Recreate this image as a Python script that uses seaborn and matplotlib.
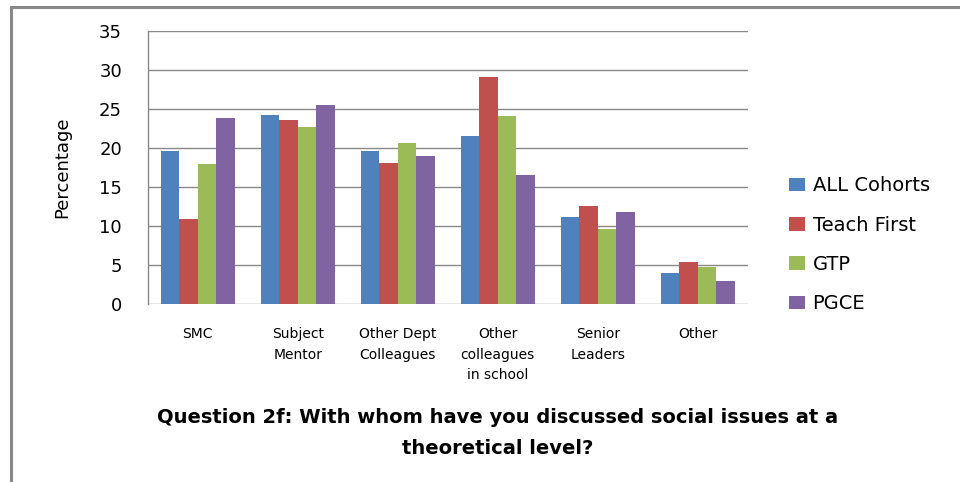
import pandas as pd
import matplotlib
matplotlib.use('Agg')
import matplotlib.pyplot as plt
from matplotlib.lines import Line2D
import seaborn as sns

categories = ['SMC', 'Subject\nMentor', 'Other Dept\nColleagues', 'Other\ncolleagues\nin school', 'Senior\nLeaders', 'Other']
cohorts = ['ALL Cohorts', 'Teach First', 'GTP', 'PGCE']

all_cohorts = [19.6, 24.2, 19.6, 21.5, 11.1, 3.9]
teach_first = [10.9, 23.6, 18.1, 29.1, 12.5, 5.3]
gtp = [18.0, 22.7, 20.6, 24.1, 9.6, 4.7]
pgce = [23.9, 25.5, 19.0, 16.5, 11.8, 2.9]

colours = ['#4F81BD', '#C0504D', '#9BBB59', '#8064A2']

# long form table for seaborn
rows = []
for name, vals in zip(cohorts, [all_cohorts, teach_first, gtp, pgce]):
    for cat, v in zip(categories, vals):
        rows.append({'category': cat, 'cohort': name, 'value': v})
df = pd.DataFrame(rows)

sns.set_style('white')
plt.rcParams['font.family'] = ['DejaVu Sans']
plt.rcParams['text.color'] = 'black'
plt.rcParams['xtick.color'] = 'black'
plt.rcParams['ytick.color'] = 'black'
plt.rcParams['axes.labelcolor'] = 'black'

fig = plt.figure(figsize=(9.6, 4.82), dpi=100)
ax = fig.add_axes([0.1539, 0.370, 0.625, 0.565])

sns.barplot(data=df, x='category', y='value', hue='cohort', order=categories,
            hue_order=cohorts, palette=colours, width=0.74, gap=0,
            saturation=1, edgecolor='none', linewidth=0, ax=ax, zorder=3)

ax.set_ylim(0, 35)
ax.set_xlim(-0.5, 5.5)
ax.set_yticks(range(0, 36, 5))
ax.yaxis.grid(True, color='#888888', linewidth=1.0, zorder=0)
ax.set_axisbelow(True)
for s in ['top', 'right', 'bottom']:
    ax.spines[s].set_visible(False)
ax.spines['left'].set_color('#888888')
ax.spines['left'].set_linewidth(1.0)
ax.tick_params(axis='y', length=7, width=1.0, color='#888888', labelsize=13, pad=11.5)
ax.tick_params(axis='x', length=0, labelsize=10, pad=17)
for lab in ax.get_xticklabels():
    lab.set_linespacing(1.6)
ax.set_xlabel('')
ax.set_ylabel('Percentage', fontsize=13, labelpad=20)

leg = ax.legend(loc='center left', bbox_to_anchor=(1.04, 0.216), frameon=False,
                fontsize=14, handlelength=0.8, handleheight=0.7,
                labelspacing=1.05, handletextpad=0.4)
leg.set_title(None)

fig.text(0.518, 0.1017, 'Question 2f: With whom have you discussed social issues at a\ntheoretical level?',
         ha='center', va='center', fontsize=14, fontweight='bold', linespacing=1.75)

# outer frame lines
fig.add_artist(Line2D([0.011, 1.0], [0.986, 0.986], color='#888888', linewidth=2.2))
fig.add_artist(Line2D([0.011, 0.011], [0.0, 0.986], color='#888888', linewidth=2.2))

fig.savefig('out.png', dpi=100)
